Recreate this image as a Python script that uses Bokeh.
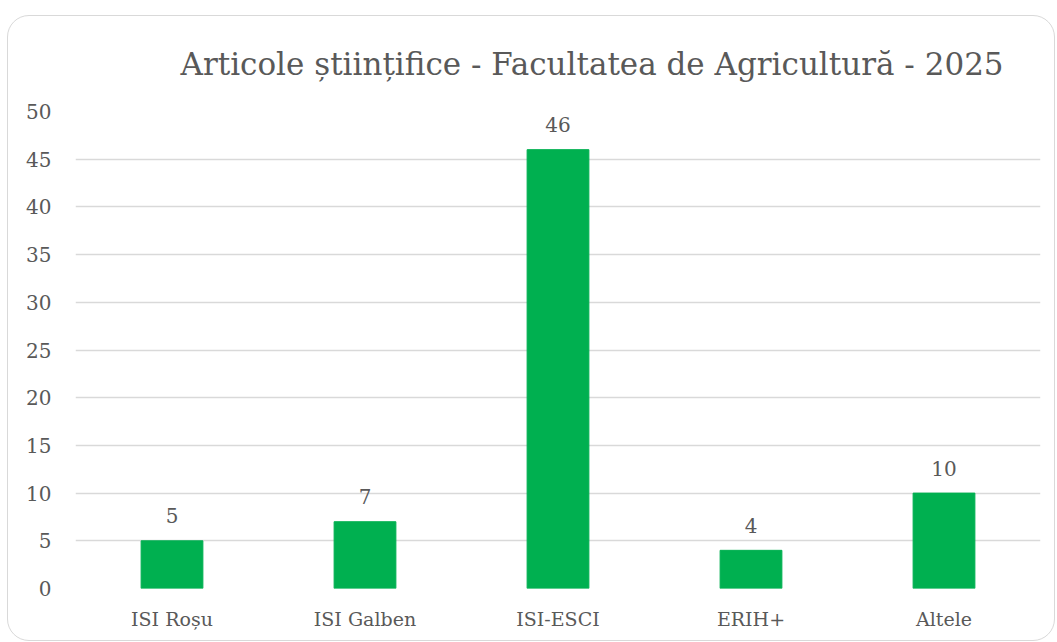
from bokeh.plotting import figure
from bokeh.models import ColumnDataSource, Title, FactorRange, Range1d, SingleIntervalTicker
from bokeh.core.properties import value
from bokeh.embed import file_html
from bokeh.resources import INLINE

categories = ["ISI Roșu", "ISI Galben", "ISI-ESCI", "ERIH+", "Altele"]
counts = [5, 7, 46, 4, 10]
title_text = "Articole științifice - Facultatea de Agricultură - 2025"

FONT = "DejaVu Serif"
TXT = "#595959"

src = ColumnDataSource(dict(cat=categories, val=counts, lab=[str(v) for v in counts]))

p = figure(width=1048, height=626, x_range=FactorRange(*categories, range_padding=0),
           y_range=Range1d(0, 50), output_backend="svg", toolbar_location=None,
           min_border_left=67, min_border_right=16, min_border_top=95, min_border_bottom=54,
           styles={"border": "1.5px solid #d9d9d9", "border-radius": "22px",
                   "margin-top": "15px", "transform": "translateX(7px)"})
p.outline_line_color = None
p.background_fill_color = None
p.border_fill_color = None

p.vbar(x="cat", top="val", width=0.32, source=src, color="#00B050")
p.text(x="cat", y="val", text="lab", source=src, text_align="center", text_baseline="alphabetic",
       y_offset=-25, text_font=value(FONT), text_font_size="20px", text_color=TXT)

p.yaxis.ticker = SingleIntervalTicker(interval=5)
p.ygrid.ticker = SingleIntervalTicker(interval=5)
p.ygrid.grid_line_color = "#D9D9D9"
p.ygrid.grid_line_width = 1.5
p.xgrid.grid_line_color = None

for ax in (p.xaxis, p.yaxis):
    ax.axis_line_color = None
    ax.major_tick_line_color = None
    ax.minor_tick_line_color = None
    ax.major_label_text_font = FONT
    ax.major_label_text_font_size = "19px"
    ax.major_label_text_color = TXT
p.yaxis.major_label_text_font_size = "20px"
p.yaxis.major_label_standoff = 18
p.xaxis.major_label_standoff = 13

p.title = Title(text=title_text, align="left", offset=105, standoff=56, vertical_align="top",
                text_font=FONT, text_font_size="31px", text_font_style="normal",
                text_color=TXT)

open("out.html", "w").write(file_html(p, INLINE))
